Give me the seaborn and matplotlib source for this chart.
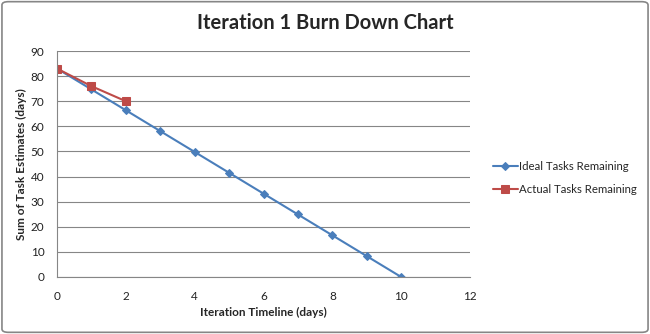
import matplotlib
matplotlib.use("Agg")
import matplotlib.pyplot as plt
import seaborn as sns
import pandas as pd
from matplotlib.patches import FancyBboxPatch

days = [0, 1, 2, 3, 4, 5, 6, 7, 8, 9, 10]
ideal_remaining = [83, 74.7, 66.4, 58.1, 49.8, 41.5, 33.2, 24.9, 16.6, 8.3, 0]
actual_days = [0, 1, 2]
actual_remaining = [83, 76, 70]
x_ticks = [0, 2, 4, 6, 8, 10, 12]
y_ticks = [0, 10, 20, 30, 40, 50, 60, 70, 80, 90]

title = "Iteration 1 Burn Down Chart"
xlabel = "Iteration Timeline (days)"
ylabel = "Sum of Task Estimates (days)"
ideal_name = "Ideal Tasks Remaining"
actual_name = "Actual Tasks Remaining"

sns.set_theme(style="white")
plt.rcParams['font.family'] = ['Lato', 'DejaVu Sans']

blue = "#4A7EBB"
red = "#BE4B48"

fig = plt.figure(figsize=(6.5, 3.34), dpi=100)
ax = fig.add_axes([0.0877, 0.1707, 0.6354, 0.6766])

ideal_df = pd.DataFrame({"day": days, "remaining": ideal_remaining})
actual_df = pd.DataFrame({"day": actual_days, "remaining": actual_remaining})

sns.lineplot(data=ideal_df, x="day", y="remaining", ax=ax, color=blue, marker="D",
             markersize=4.5, markeredgecolor=blue, linewidth=1.5, label=ideal_name)
sns.lineplot(data=actual_df, x="day", y="remaining", ax=ax, color=red, marker="s",
             markersize=5.5, markeredgecolor=red, linewidth=1.5, label=actual_name)

ax.set_xlim(0, 12)
ax.set_ylim(0, 90)
ax.set_xticks(x_ticks)
ax.set_yticks(y_ticks)
ax.yaxis.grid(True, color="#868686", linewidth=0.8)
ax.set_axisbelow(True)
for s in ["top", "right"]:
    ax.spines[s].set_visible(False)
for s in ["left", "bottom"]:
    ax.spines[s].set_color("#868686")
    ax.spines[s].set_linewidth(0.8)
ax.tick_params(axis="both", which="both", direction="out", length=4, width=0.8,
               color="#868686", labelsize=8.5, labelcolor="#222222", pad=3)
ax.tick_params(axis="x", pad=6)
ax.tick_params(axis="y", pad=5)

ax.set_xlabel(xlabel, fontsize=8.5, fontweight="bold", labelpad=4)
ax.set_ylabel(ylabel, fontsize=8.5, fontweight="bold", labelpad=3)
fig.text(0.5, 0.932, title, ha="center", va="center", fontsize=14.5, fontweight="bold")

leg = ax.legend(loc="center left", bbox_to_anchor=(1.03, 0.44), frameon=False,
                fontsize=8.2, handlelength=2.2, handletextpad=0.15, labelspacing=1.05)

border = FancyBboxPatch((0.003, 0.005), 0.994, 0.99, boxstyle="round,pad=0,rounding_size=0.01",
                        transform=fig.transFigure, fill=False, edgecolor="#868686", linewidth=1.2)
fig.patches.append(border)

fig.savefig("out.png", dpi=100)
